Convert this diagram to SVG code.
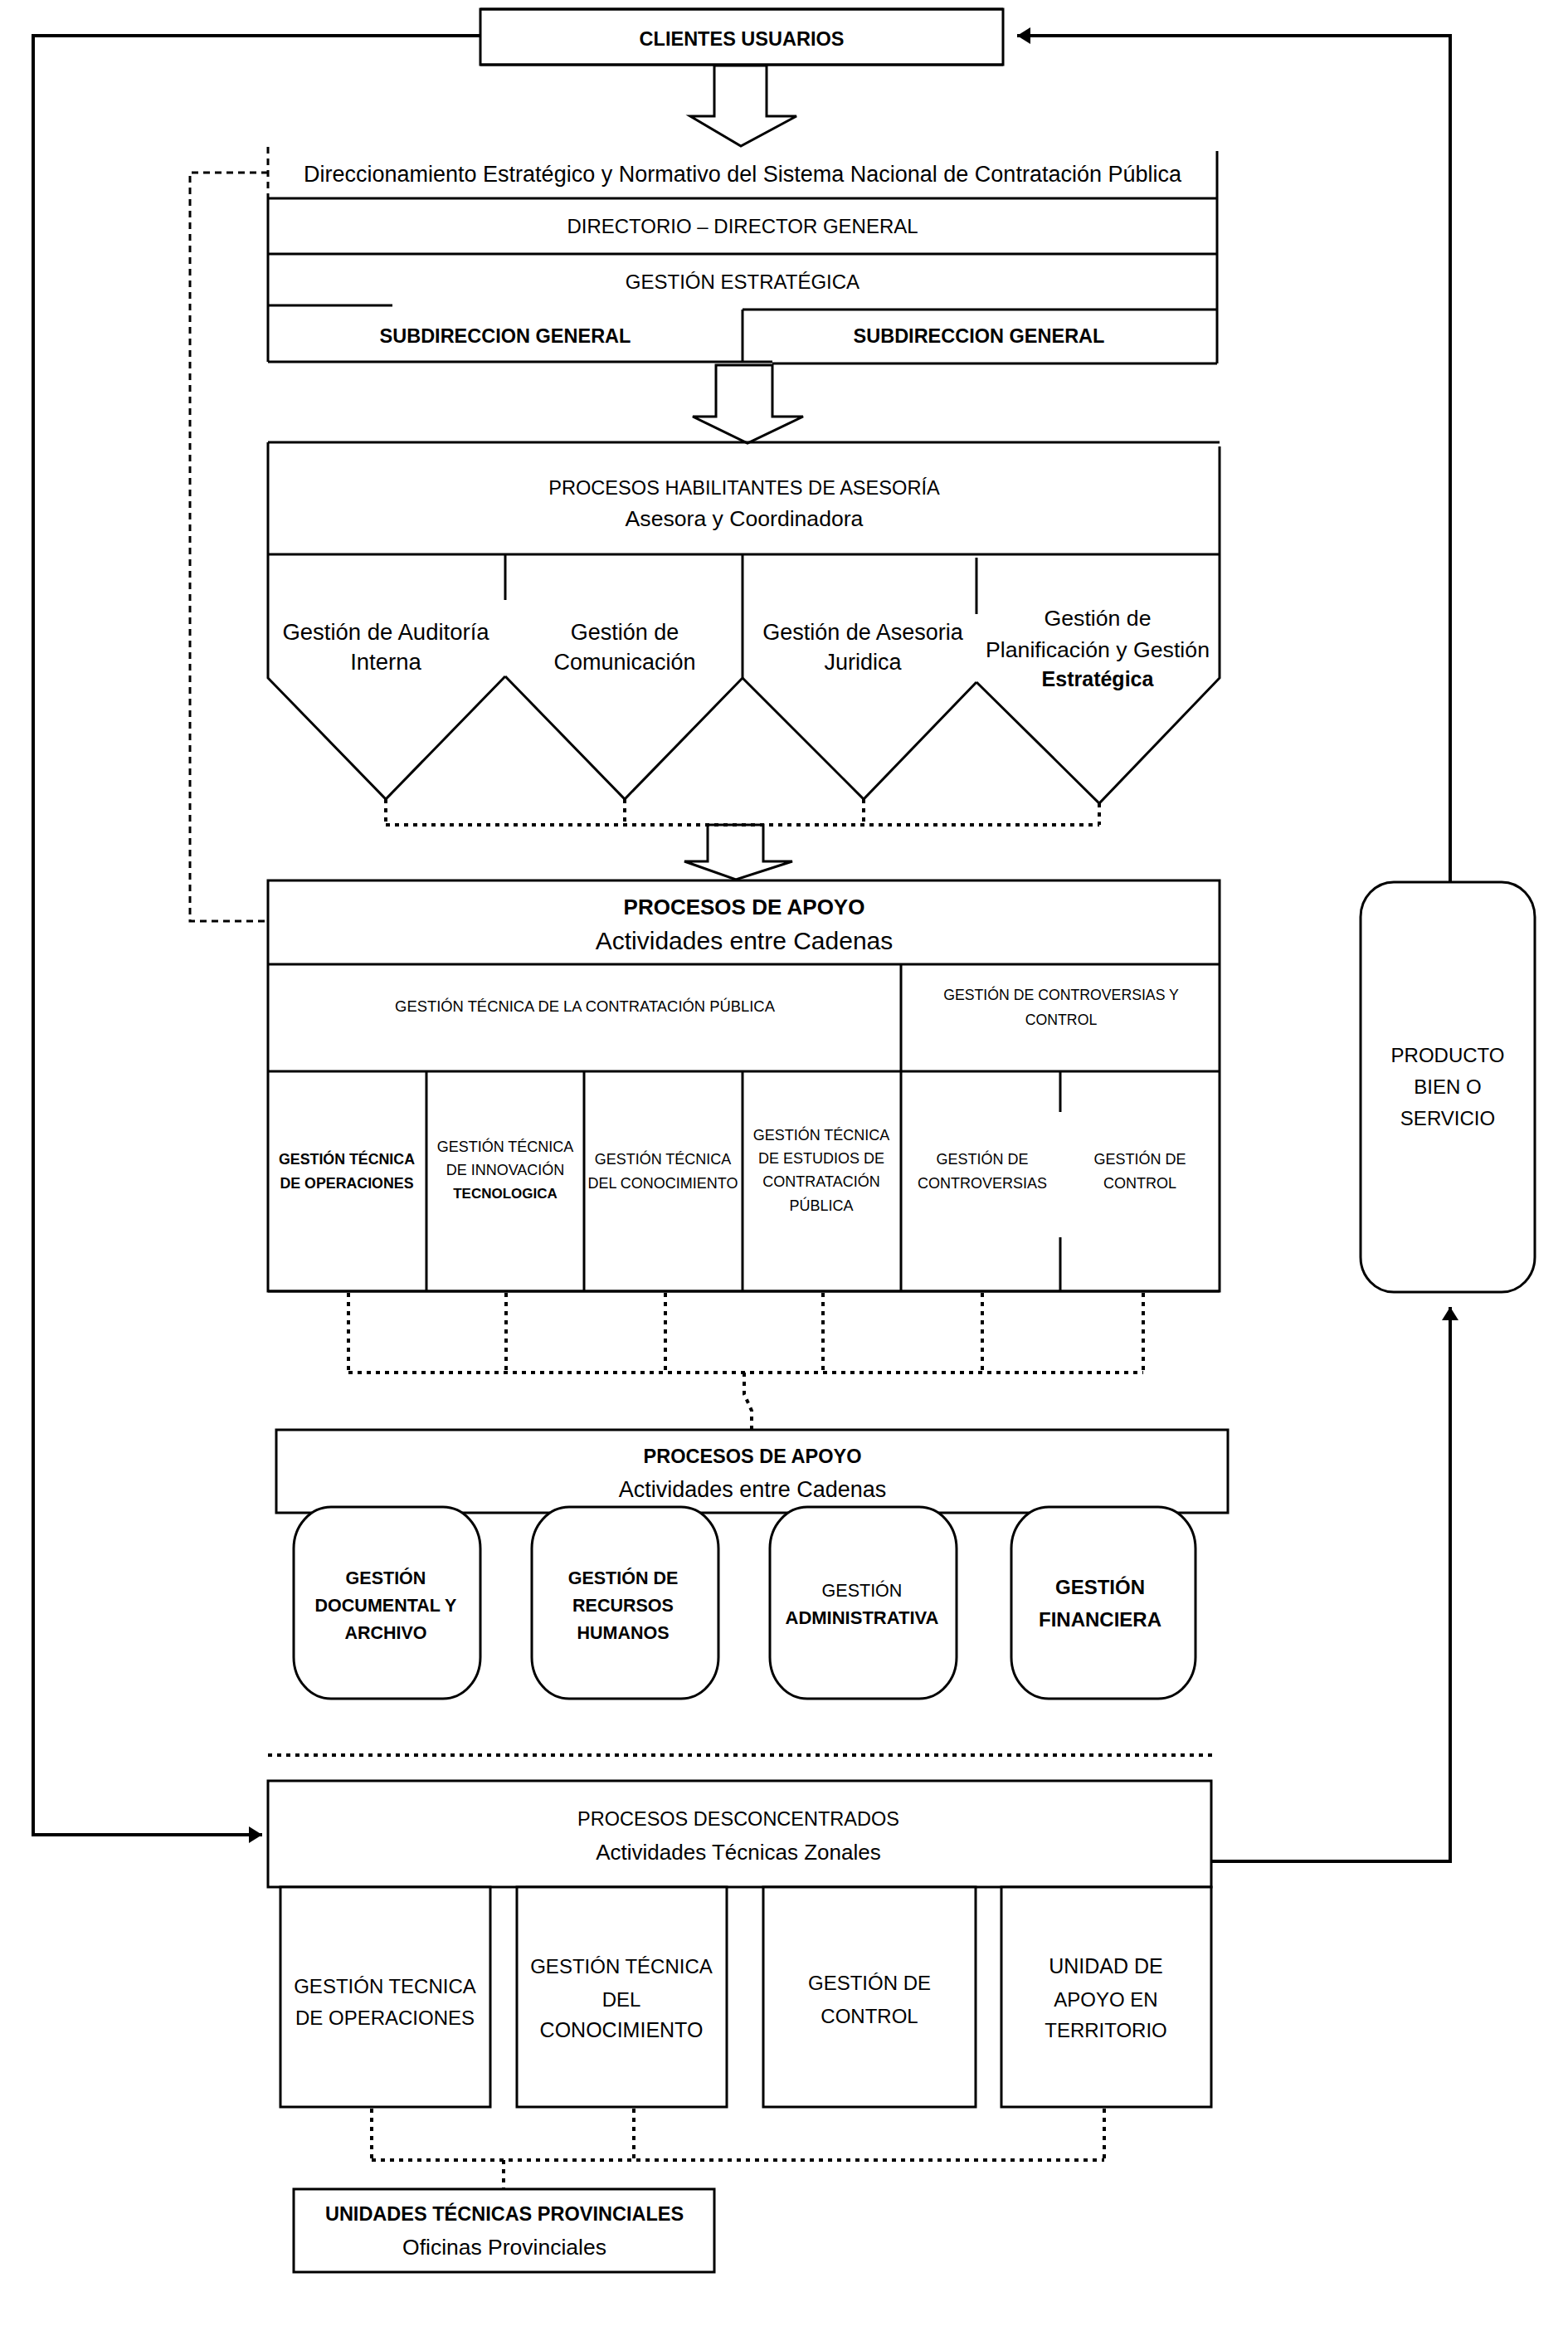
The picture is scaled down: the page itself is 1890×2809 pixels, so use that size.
<svg xmlns="http://www.w3.org/2000/svg" width="1890" height="2809" viewBox="0 0 1890 2809">
<style>
.t{font-family:"Liberation Sans",Arial,sans-serif;text-anchor:middle;fill:#000}
.b{font-weight:bold}
.ln{stroke:#000;stroke-width:3;fill:none}
.bx{stroke:#000;stroke-width:3;fill:#fff}
.con{stroke:#000;stroke-width:4;fill:none}
.dot{stroke:#000;stroke-width:4;fill:none;stroke-dasharray:5 6}
.dash{stroke:#000;stroke-width:3;fill:none;stroke-dasharray:8 6}
.harrow{stroke:#000;stroke-width:3;fill:#fff;stroke-linejoin:miter}
</style>
<defs>
<marker id="ah" markerUnits="userSpaceOnUse" markerWidth="18" markerHeight="20" refX="16" refY="10" orient="auto">
<path d="M0,0 L16,10 L0,20 Z" fill="#000"/>
</marker>
</defs>
<rect width="1890" height="2809" fill="#fff"/>

<g id="connectors">
<polyline class="con" points="579,43 40,43 40,2211 316,2211" marker-end="url(#ah)"/>
<polyline class="con" points="1748,1063 1748,43 1226,43" marker-end="url(#ah)"/>
<polyline class="con" points="1460,2243 1748,2243 1748,1575" marker-end="url(#ah)"/>
<polyline class="dash" points="323,208 229,208 229,1110 323,1110"/>
<polygon class="harrow" points="861,79 924,79 924,140 960,140 893,176 832,140 861,140"/>
<polygon class="harrow" points="863,440 931,440 931,502 968,502 901,534 835,502 863,502"/>
<polygon class="harrow" points="853,994 920,994 920,1038 955,1038 887,1060 825,1038 853,1038"/>
<g class="dot">
<line x1="465" y1="963" x2="465" y2="994"/>
<line x1="753" y1="963" x2="753" y2="994"/>
<line x1="1041" y1="963" x2="1041" y2="994"/>
<line x1="1325" y1="968" x2="1325" y2="994"/>
<line x1="465" y1="994" x2="1325" y2="994"/>
<line x1="420" y1="1558" x2="420" y2="1654"/>
<line x1="610" y1="1558" x2="610" y2="1654"/>
<line x1="802" y1="1558" x2="802" y2="1654"/>
<line x1="992" y1="1558" x2="992" y2="1654"/>
<line x1="1184" y1="1558" x2="1184" y2="1654"/>
<line x1="1378" y1="1558" x2="1378" y2="1654"/>
<line x1="420" y1="1654" x2="1378" y2="1654"/>
<polyline points="897,1654 897,1680 906,1700 906,1723"/>
<line x1="323" y1="2115" x2="1465" y2="2115"/>
<line x1="448" y1="2541" x2="448" y2="2603"/>
<line x1="764" y1="2541" x2="764" y2="2603"/>
<line x1="1331" y1="2541" x2="1331" y2="2603"/>
<line x1="448" y1="2603" x2="1331" y2="2603"/>
<line x1="607" y1="2603" x2="607" y2="2638"/>
</g>
</g>

<g id="clientes">
<rect class="bx" x="579" y="11" width="630" height="67"/>
<line class="ln" x1="579" y1="11" x2="1209" y2="11" stroke-width="5"/>
<line class="ln" x1="579" y1="78" x2="1209" y2="78" stroke-width="5"/>
<text class="t b" x="894" y="55" font-size="23.5">CLIENTES USUARIOS</text>
</g>

<g id="direccionamiento">
<line class="dash" x1="323" y1="177" x2="323" y2="239"/>
<line class="ln" x1="1467" y1="182" x2="1467" y2="239"/>
<text class="t" x="895" y="219" font-size="27">Direccionamiento Estratégico y Normativo del Sistema Nacional de Contratación Pública</text>
</g>
<g id="directorio">
<line class="ln" x1="323" y1="239" x2="1467" y2="239"/>
<line class="ln" x1="323" y1="239" x2="323" y2="306"/>
<line class="ln" x1="1467" y1="239" x2="1467" y2="306"/>
<text class="t" x="895" y="281" font-size="24">DIRECTORIO – DIRECTOR GENERAL</text>
</g>
<g id="gestion-estrategica">
<line class="ln" x1="323" y1="306" x2="1467" y2="306"/>
<line class="ln" x1="323" y1="306" x2="323" y2="368"/>
<line class="ln" x1="1467" y1="306" x2="1467" y2="373"/>
<line class="ln" x1="323" y1="368" x2="473" y2="368"/>
<text class="t" x="895" y="348" font-size="24">GESTIÓN ESTRATÉGICA</text>
</g>
<g id="subdireccion-1">
<line class="ln" x1="323" y1="368" x2="323" y2="436"/>
<line class="ln" x1="323" y1="436" x2="931" y2="436"/>
<text class="t b" x="609" y="413" font-size="23.5">SUBDIRECCION GENERAL</text>
</g>
<g id="subdireccion-2">
<line class="ln" x1="895" y1="373" x2="1467" y2="373"/>
<line class="ln" x1="895" y1="373" x2="895" y2="436"/>
<line class="ln" x1="1467" y1="373" x2="1467" y2="438"/>
<line class="ln" x1="931" y1="438" x2="1467" y2="438"/>
<text class="t b" x="1180" y="413" font-size="23.5">SUBDIRECCION GENERAL</text>
</g>

<g id="habilitantes">
<line class="ln" x1="323" y1="533" x2="1470" y2="533"/>
<line class="ln" x1="323" y1="533" x2="323" y2="668"/>
<line class="ln" x1="1470" y1="538" x2="1470" y2="668"/>
<line class="ln" x1="323" y1="668" x2="1470" y2="668" stroke-width="4"/>
<text class="t" x="897" y="596" font-size="23.6">PROCESOS HABILITANTES DE ASESORÍA</text>
<text class="t" x="897" y="634" font-size="26.6">Asesora y Coordinadora</text>
</g>
<g id="auditoria">
<polyline class="ln" points="609,668 609,723"/>
<polyline class="ln" points="323,668 323,817 465,963 609,815"/>
<text class="t" x="465" y="771" font-size="27.5">Gestión de Auditoría</text>
<text class="t" x="465" y="807" font-size="27.5">Interna</text>
</g>
<g id="comunicacion">
<polyline class="ln" points="609,815 753,963 895,817 895,668"/>
<text class="t" x="753" y="771" font-size="27">Gestión de</text>
<text class="t" x="753" y="807" font-size="27">Comunicación</text>
</g>
<g id="asesoria-juridica">
<polyline class="ln" points="895,817 1041,963 1177,822"/>
<polyline class="ln" points="1177,672 1177,740"/>
<text class="t" x="1040" y="771" font-size="27">Gestión de Asesoria</text>
<text class="t" x="1040" y="807" font-size="27">Juridica</text>
</g>
<g id="planificacion">
<polyline class="ln" points="1177,822 1325,968 1470,817 1470,668"/>
<text class="t" x="1323" y="754" font-size="26.7">Gestión de</text>
<text class="t" x="1323" y="792" font-size="26.7">Planificación y Gestión</text>
<text class="t b" x="1323" y="827" font-size="25">Estratégica</text>
</g>

<g id="apoyo-1">
<rect class="bx" x="323" y="1061" width="1147" height="495"/>
<line class="ln" x1="323" y1="1162" x2="1470" y2="1162"/>
<line class="ln" x1="323" y1="1291" x2="1470" y2="1291"/>
<line class="ln" x1="323" y1="1556" x2="1470" y2="1556" stroke-width="5"/>
<text class="t b" x="897" y="1102" font-size="26">PROCESOS DE APOYO</text>
<text class="t" x="897" y="1144" font-size="30">Actividades entre Cadenas</text>
</g>
<g id="tecnica-contratacion">
<text class="t" x="705" y="1219" font-size="18.4">GESTIÓN TÉCNICA DE LA CONTRATACIÓN PÚBLICA</text>
</g>
<g id="controversias-control">
<line class="ln" x1="1086" y1="1162" x2="1086" y2="1556"/>
<text class="t" x="1279" y="1205" font-size="17.7">GESTIÓN DE CONTROVERSIAS Y</text>
<text class="t" x="1279" y="1235" font-size="17.7">CONTROL</text>
</g>
<g id="tec-operaciones">
<line class="ln" x1="514" y1="1291" x2="514" y2="1556"/>
<text class="t b" x="418" y="1403" font-size="17.8">GESTIÓN TÉCNICA</text>
<text class="t b" x="418" y="1432" font-size="17.8">DE OPERACIONES</text>
</g>
<g id="tec-innovacion">
<line class="ln" x1="704" y1="1291" x2="704" y2="1556"/>
<text class="t" x="609" y="1388" font-size="18">GESTIÓN TÉCNICA</text>
<text class="t" x="609" y="1416" font-size="18">DE INNOVACIÓN</text>
<text class="t b" x="609" y="1444" font-size="17">TECNOLOGICA</text>
</g>
<g id="tec-conocimiento">
<line class="ln" x1="895" y1="1291" x2="895" y2="1556"/>
<text class="t" x="799" y="1403" font-size="18">GESTIÓN TÉCNICA</text>
<text class="t" x="799" y="1432" font-size="18">DEL CONOCIMIENTO</text>
</g>
<g id="tec-estudios">
<text class="t" x="990" y="1374" font-size="18">GESTIÓN TÉCNICA</text>
<text class="t" x="990" y="1402" font-size="18">DE ESTUDIOS DE</text>
<text class="t" x="990" y="1430" font-size="18">CONTRATACIÓN</text>
<text class="t" x="990" y="1459" font-size="18">PÚBLICA</text>
</g>
<g id="controversias">
<text class="t" x="1184" y="1403" font-size="18">GESTIÓN DE</text>
<text class="t" x="1184" y="1432" font-size="18">CONTROVERSIAS</text>
</g>
<g id="control">
<line class="ln" x1="1278" y1="1291" x2="1278" y2="1340"/>
<line class="ln" x1="1278" y1="1491" x2="1278" y2="1556" stroke-width="4"/>
<text class="t" x="1374" y="1403" font-size="18">GESTIÓN DE</text>
<text class="t" x="1374" y="1432" font-size="18">CONTROL</text>
</g>

<g id="apoyo-2">
<rect class="bx" x="333" y="1723" width="1147" height="100"/>
<text class="t b" x="907" y="1763" font-size="23.5">PROCESOS DE APOYO</text>
<text class="t" x="907" y="1804" font-size="27">Actividades entre Cadenas</text>
</g>
<g id="documental">
<rect class="bx" x="354" y="1816" width="225" height="231" rx="45" ry="50"/>
<text class="t b" x="465" y="1909" font-size="21.5">GESTIÓN</text>
<text class="t b" x="465" y="1942" font-size="21.5">DOCUMENTAL Y</text>
<text class="t b" x="465" y="1975" font-size="21.5">ARCHIVO</text>
</g>
<g id="recursos-humanos">
<rect class="bx" x="641" y="1816" width="225" height="231" rx="45" ry="50"/>
<text class="t b" x="751" y="1909" font-size="21.5">GESTIÓN DE</text>
<text class="t b" x="751" y="1942" font-size="21.5">RECURSOS</text>
<text class="t b" x="751" y="1975" font-size="21.5">HUMANOS</text>
</g>
<g id="administrativa">
<rect class="bx" x="928" y="1816" width="225" height="231" rx="45" ry="50"/>
<text class="t" x="1039" y="1924" font-size="21.5">GESTIÓN</text>
<text class="t b" x="1039" y="1957" font-size="22">ADMINISTRATIVA</text>
</g>
<g id="financiera">
<rect class="bx" x="1219" y="1816" width="222" height="231" rx="45" ry="50"/>
<text class="t b" x="1326" y="1921" font-size="24">GESTIÓN</text>
<text class="t b" x="1326" y="1960" font-size="24">FINANCIERA</text>
</g>

<g id="desconcentrados">
<rect class="bx" x="323" y="2146" width="1137" height="128"/>
<text class="t" x="890" y="2200" font-size="23.5">PROCESOS DESCONCENTRADOS</text>
<text class="t" x="890" y="2241" font-size="26">Actividades Técnicas Zonales</text>
</g>
<g id="zon-operaciones">
<rect class="bx" x="338" y="2274" width="253" height="265"/>
<text class="t" x="464" y="2402" font-size="24">GESTIÓN TECNICA</text>
<text class="t" x="464" y="2440" font-size="24">DE OPERACIONES</text>
</g>
<g id="zon-conocimiento">
<rect class="bx" x="623" y="2274" width="253" height="265"/>
<text class="t" x="749" y="2378" font-size="24">GESTIÓN TÉCNICA</text>
<text class="t" x="749" y="2418" font-size="24">DEL</text>
<text class="t" x="749" y="2455" font-size="25">CONOCIMIENTO</text>
</g>
<g id="zon-control">
<rect class="bx" x="920" y="2274" width="256" height="265"/>
<text class="t" x="1048" y="2398" font-size="24">GESTIÓN DE</text>
<text class="t" x="1048" y="2438" font-size="24">CONTROL</text>
</g>
<g id="zon-territorio">
<rect class="bx" x="1207" y="2274" width="253" height="265"/>
<text class="t" x="1333" y="2378" font-size="25">UNIDAD DE</text>
<text class="t" x="1333" y="2418" font-size="24">APOYO EN</text>
<text class="t" x="1333" y="2455" font-size="24">TERRITORIO</text>
</g>

<g id="provinciales">
<rect class="bx" x="354" y="2638" width="507" height="100" stroke-width="4"/>
<text class="t b" x="608" y="2676" font-size="23.5">UNIDADES TÉCNICAS PROVINCIALES</text>
<text class="t" x="608" y="2717" font-size="26.5">Oficinas Provinciales</text>
</g>

<g id="producto">
<rect class="bx" x="1640" y="1063" width="210" height="494" rx="40" ry="42"/>
<text class="t" x="1745" y="1280" font-size="24">PRODUCTO</text>
<text class="t" x="1745" y="1318" font-size="24">BIEN O</text>
<text class="t" x="1745" y="1356" font-size="24">SERVICIO</text>
</g>
</svg>
